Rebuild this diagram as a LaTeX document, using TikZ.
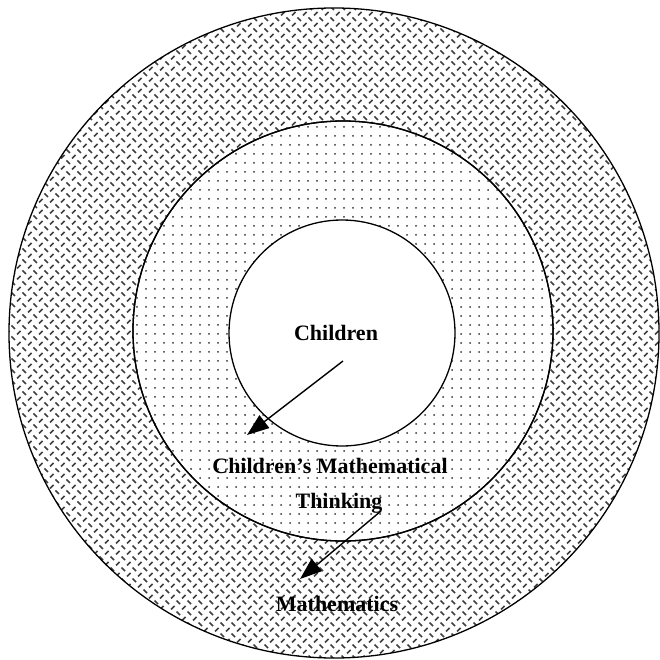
\documentclass[tikz,border=0pt]{standalone}
\usepackage{fontspec}
\setmainfont{Liberation Serif}
\usetikzlibrary{patterns,arrows.meta}
\pgfdeclarepatternformonly{plate}{\pgfpoint{-1pt}{-1pt}}{\pgfpoint{12pt}{12pt}}{\pgfpoint{11pt}{11pt}}{%
  \pgfsetlinewidth{1.5pt}
  \pgfpathmoveto{\pgfpoint{0.5pt}{4.5pt}}\pgfpathlineto{\pgfpoint{4pt}{1pt}}
  \pgfpathmoveto{\pgfpoint{6pt}{6.5pt}}\pgfpathlineto{\pgfpoint{9.5pt}{10pt}}
  \pgfusepath{stroke}}
\pgfdeclarepatternformonly{sparsedots}{\pgfpoint{-1pt}{-1pt}}{\pgfpoint{10pt}{10pt}}{\pgfpoint{9pt}{9pt}}{%
  \pgfpathcircle{\pgfpoint{2pt}{2pt}}{1pt}
  \pgfusepath{fill}}
\begin{document}
\begin{tikzpicture}[x=1pt,y=-1pt,
  ring/.style={draw=black,line width=1.3pt},
  lbl/.style={font=\bfseries\fontsize{22}{24}\selectfont,inner sep=0pt},
  arr/.style={line width=1.4pt,-{Triangle[length=22pt,width=16pt]}}]
\useasboundingbox (0,0) rectangle (659,660);
\fill[white] (0,0) rectangle (659,660);
\path[ring,pattern=plate,pattern color=black!75] (334,333) circle (325);
\path[ring,fill=white] (343,331) circle (210);
\path[ring,pattern=sparsedots,pattern color=black!80] (343,331) circle (210);
\path[ring,fill=white] (342,333) circle (113);
\node[lbl] (ch) at (336,333) {Children};
\node[lbl] (cmt1) at (330,466) {Children's Mathematical};
\node[lbl] (cmt2) at (339,503) {Thinking};
\node[lbl] (m) at (337,604) {Mathematics};
\coordinate (a1s) at (343,361);
\coordinate (a1e) at (247,435);
\coordinate (a2s) at (381,511);
\coordinate (a2e) at (300,579);
\draw[arr] (a1s) -- (a1e);
\draw[arr] (a2s) -- (a2e);
\end{tikzpicture}
\end{document}
